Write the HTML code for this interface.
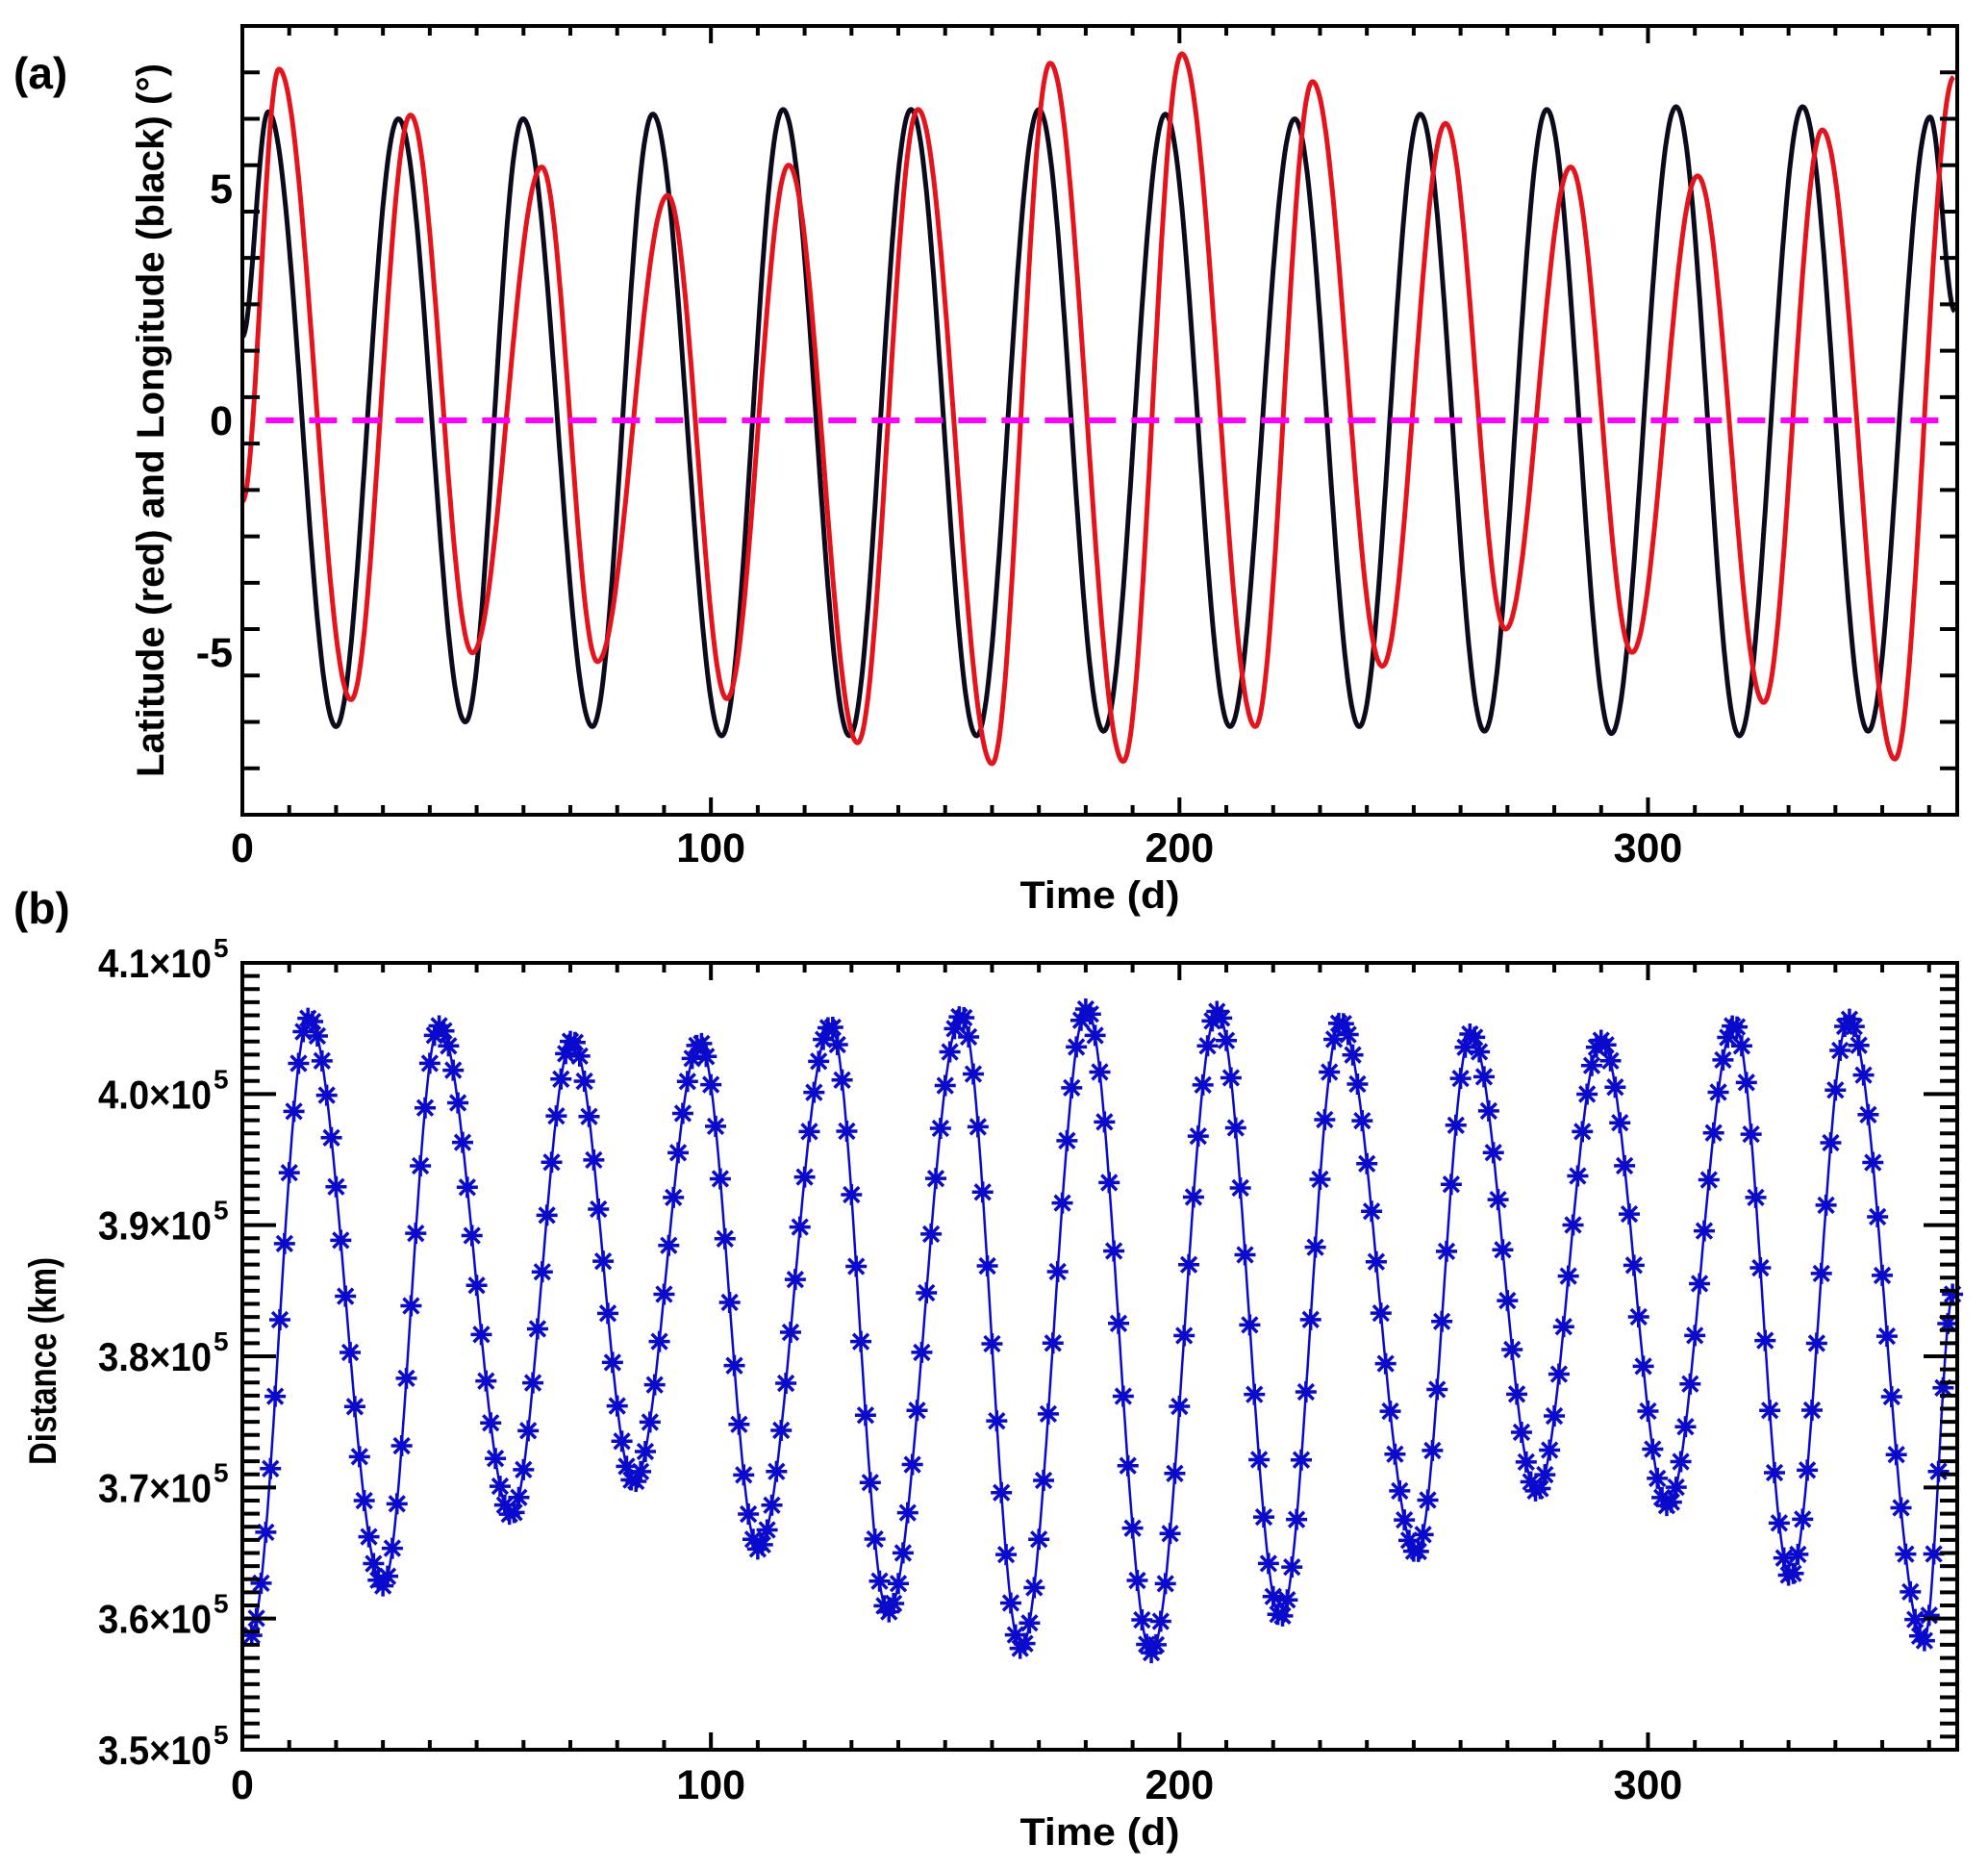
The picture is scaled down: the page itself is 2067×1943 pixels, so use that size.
<!DOCTYPE html>
<html><head><meta charset="utf-8"><style>
html,body{margin:0;padding:0;background:#fff;}
svg{display:block;}
text{font-family:"Liberation Sans",sans-serif;font-weight:bold;fill:#000;}
</style></head><body>
<svg id="fig" width="2067" height="1943" viewBox="0 0 2067 1943" xmlns="http://www.w3.org/2000/svg">
<text x="14" y="92" font-size="46">(a)</text>
<text x="14" y="960" font-size="46">(b)</text>
<g id="pa"></g>
<g id="pb"></g>
</svg>
<script>
// ---- Panel (a) data: extrema (day, degrees)
const lonDays = [0, 5.5, 20, 33.3, 47.6, 59.9, 74.7, 87.6, 102.3, 115.4, 129.6, 142.7, 156.7, 170, 183.8, 197, 210.8, 224.6, 238.4, 251.4, 265.1, 278.4, 292.2, 306, 319.5, 333, 347, 360.2, 365.5];
const lonVals = [1.8, 6.65, -6.6, 6.5, -6.5, 6.5, -6.6, 6.6, -6.8, 6.7, -6.8, 6.7, -6.8, 6.7, -6.7, 6.6, -6.6, 6.5, -6.6, 6.6, -6.7, 6.7, -6.75, 6.76, -6.8, 6.76, -6.7, 6.54, 2.35];
const latDays = [0, 7.8, 23.2, 35.9, 49.1, 63.9, 75.8, 90.8, 103.4, 116.6, 131.3, 144.2, 160, 172.4, 188, 200.5, 216.2, 228.4, 243.3, 256.8, 269.6, 283.5, 296.6, 310.6, 324.7, 337.2, 352.7, 365.3];
const latVals = [-1.75, 7.57, -6.02, 6.58, -5.01, 5.46, -5.2, 4.85, -6.0, 5.5, -6.95, 6.7, -7.4, 7.7, -7.35, 7.9, -6.6, 7.3, -5.3, 6.4, -4.5, 5.46, -5.0, 5.27, -6.08, 6.26, -7.3, 7.4];
const zeroLine = [5, 362.8];
const xTicksA = [0, 100, 200, 300];
const yTicksA = [-5, 0, 5];
// ---- Panel (b) data: extrema (day, distance in 1e5 km)
const distDays = [1.6, 14.2, 30, 42, 57.4, 70.4, 83.6, 97.7, 110.1, 125.6, 137.8, 153.5, 166.2, 180.2, 194, 208.1, 221.6, 234.4, 250.6, 262.2, 276.3, 290.1, 304.2, 318.5, 330.4, 342.9, 358.9, 365.2];
const distVals = [3.586, 4.058, 3.625, 4.052, 3.679, 4.041, 3.704, 4.039, 3.653, 4.052, 3.605, 4.060, 3.577, 4.065, 3.574, 4.063, 3.601, 4.055, 3.650, 4.046, 3.697, 4.041, 3.686, 4.053, 3.632, 4.057, 3.583, 3.848];
const xTicksB = [0, 100, 200, 300];
const yTicksB = [3.5, 3.6, 3.7, 3.8, 3.9, 4.0, 4.1];

const NS = 'http://www.w3.org/2000/svg';
function mk(tag, attrs, parent){ const e=document.createElementNS(NS,tag); for(const k in attrs) e.setAttribute(k,attrs[k]); parent.appendChild(e); return e; }

function evalCurve(days, vals, t){
  if (t<=days[0]) return vals[0];
  for (let i=0;i<days.length-1;i++){
    if (t<=days[i+1]){
      const s=(t-days[i])/(days[i+1]-days[i]);
      return vals[i]+(vals[i+1]-vals[i])*(1-Math.cos(Math.PI*s))/2;
    }
  }
  return vals[vals.length-1];
}

function axes(g, L, R, T, B, X, Y, xMin, xMax, yMin, yMax, yMinorStep, yMajors, xt, xTitleY){
  for (let d=0; d<=xMax+0.001; d+=10){
    const major = Math.abs(d%100)<0.001;
    const len = major?18:10, x=X(d);
    const t1=mk('line',{x1:x,y1:B,x2:x,y2:B-len,stroke:'#000','stroke-width':4},g);
     
    const t2=mk('line',{x1:x,y1:T,x2:x,y2:T+len,stroke:'#000','stroke-width':4},g);
     
  }
  const nMinor=Math.round((yMax-yMin)/yMinorStep);
  for (let i=0;i<=nMinor;i++){
    const v=yMin+i*yMinorStep;
    const major=yMajors.some(m=>Math.abs(m-v)<1e-6);
    const len=major?35:18, y=Y(v);
    const t1=mk('line',{x1:L,y1:y,x2:L+len,y2:y,stroke:'#000','stroke-width':4},g);
     
    const t2=mk('line',{x1:R,y1:y,x2:R-len,y2:y,stroke:'#000','stroke-width':4},g);
     
  }
  xt.forEach(d=>{
    const t=mk('text',{x:X(d),y:xTitleY-48,'font-size':43,'text-anchor':'middle'},g);
    t.textContent=d;
     
  });
  const fr=mk('rect',{x:L,y:T,width:R-L,height:B-T,fill:'none',stroke:'#000','stroke-width':4},g);
   
  const tt=mk('text',{x:(L+R)/2,y:xTitleY,'font-size':40,'text-anchor':'middle',textLength:166,lengthAdjust:'spacingAndGlyphs'},g);
  tt.textContent='Time (d)';
   
}

// ---------------- Panel A
(function(){
  const g=document.getElementById('pa');
  const L=252,R=2035,T=27,B=847, xMin=0,xMax=366, yMin=-8.5,yMax=8.5;
  const X=d=>L+(d-xMin)/(xMax-xMin)*(R-L);
  const Y=v=>B-(v-yMin)/(yMax-yMin)*(B-T);
  function series(days, vals, color, name){
    let p='';
    for (let t=days[0]; t<=days[days.length-1]+1e-9; t+=0.25){
      p+=(p?'L':'M')+X(t).toFixed(1)+','+Y(evalCurve(days,vals,t)).toFixed(1);
    }
    const e=mk('path',{d:p,fill:'none',stroke:color,'stroke-width':5,'stroke-linejoin':'round'},g);
     
  }
  series(lonDays, lonVals, '#0b0b1c', 'longitude-line-black');
  series(latDays, latVals, '#e3141b', 'latitude-line-red');
  const z=mk('line',{x1:X(zeroLine[0]),y1:Y(0),x2:X(zeroLine[1]),y2:Y(0),stroke:'#ff00ff','stroke-width':6,'stroke-dasharray':'29 16'},g);
   
  axes(g,L,R,T,B,X,Y,xMin,xMax,yMin,yMax,1,yTicksA,xTicksA,944);
  yTicksA.forEach(v=>{
    const t=mk('text',{x:242,y:Y(v)+15,'font-size':43,'text-anchor':'end'},g);
    t.textContent=v;
     
  });
  const yt=mk('text',{x:0,y:0,'font-size':40,'text-anchor':'middle',textLength:742,lengthAdjust:'spacingAndGlyphs',transform:'translate(170,437) rotate(-90)'},g);
  yt.textContent='Latitude (red) and Longitude (black) (°)';
   
})();

// ---------------- Panel B
(function(){
  const g=document.getElementById('pb');
  const L=252,R=2035,T=1001,B=1819, xMin=0,xMax=366, yMin=3.5,yMax=4.1;
  const X=d=>L+(d-xMin)/(xMax-xMin)*(R-L);
  const Y=v=>B-(v-yMin)/(yMax-yMin)*(B-T);
  let p='';
  for (let t=distDays[0]; t<=distDays[distDays.length-1]+1e-9; t+=0.25){
    p+=(p?'L':'M')+X(t).toFixed(1)+','+Y(evalCurve(distDays,distVals,t)).toFixed(1);
  }
  const ln=mk('path',{d:p,fill:'none',stroke:'#0a0acd','stroke-width':2.5},g);
   
  const mg=mk('g',{stroke:'#0a0acd','stroke-width':3.5},g);
   
  const start=Math.ceil(distDays[0]), end=Math.floor(distDays[distDays.length-1]);
  const s=11, d=s*0.72;
  for (let t=start; t<=end; t++){
    const cx=X(t), cy=Y(evalCurve(distDays,distVals,t));
    const m=mk('path',{d:`M${cx-s},${cy}H${cx+s}M${cx},${cy-s}V${cy+s}M${cx-d},${cy-d}L${cx+d},${cy+d}M${cx-d},${cy+d}L${cx+d},${cy-d}`},mg);
     
  }
  axes(g,L,R,T,B,X,Y,xMin,xMax,yMin,yMax,0.01,yTicksB,xTicksB,1918);
  yTicksB.forEach(v=>{
    const t=mk('text',{x:220,y:Y(v)+15,'font-size':42,'text-anchor':'end',textLength:118,lengthAdjust:'spacingAndGlyphs'},g);
    t.textContent=v.toFixed(1)+'×10';
     
    const e=mk('text',{x:222,y:Y(v)-6,'font-size':28},g);
    e.textContent='5';
     
  });
  const yt=mk('text',{x:0,y:0,'font-size':40,'text-anchor':'middle',textLength:216,lengthAdjust:'spacingAndGlyphs',transform:'translate(58,1415) rotate(-90)'},g);
  yt.textContent='Distance (km)';
   
})();
</script>
</body></html>
